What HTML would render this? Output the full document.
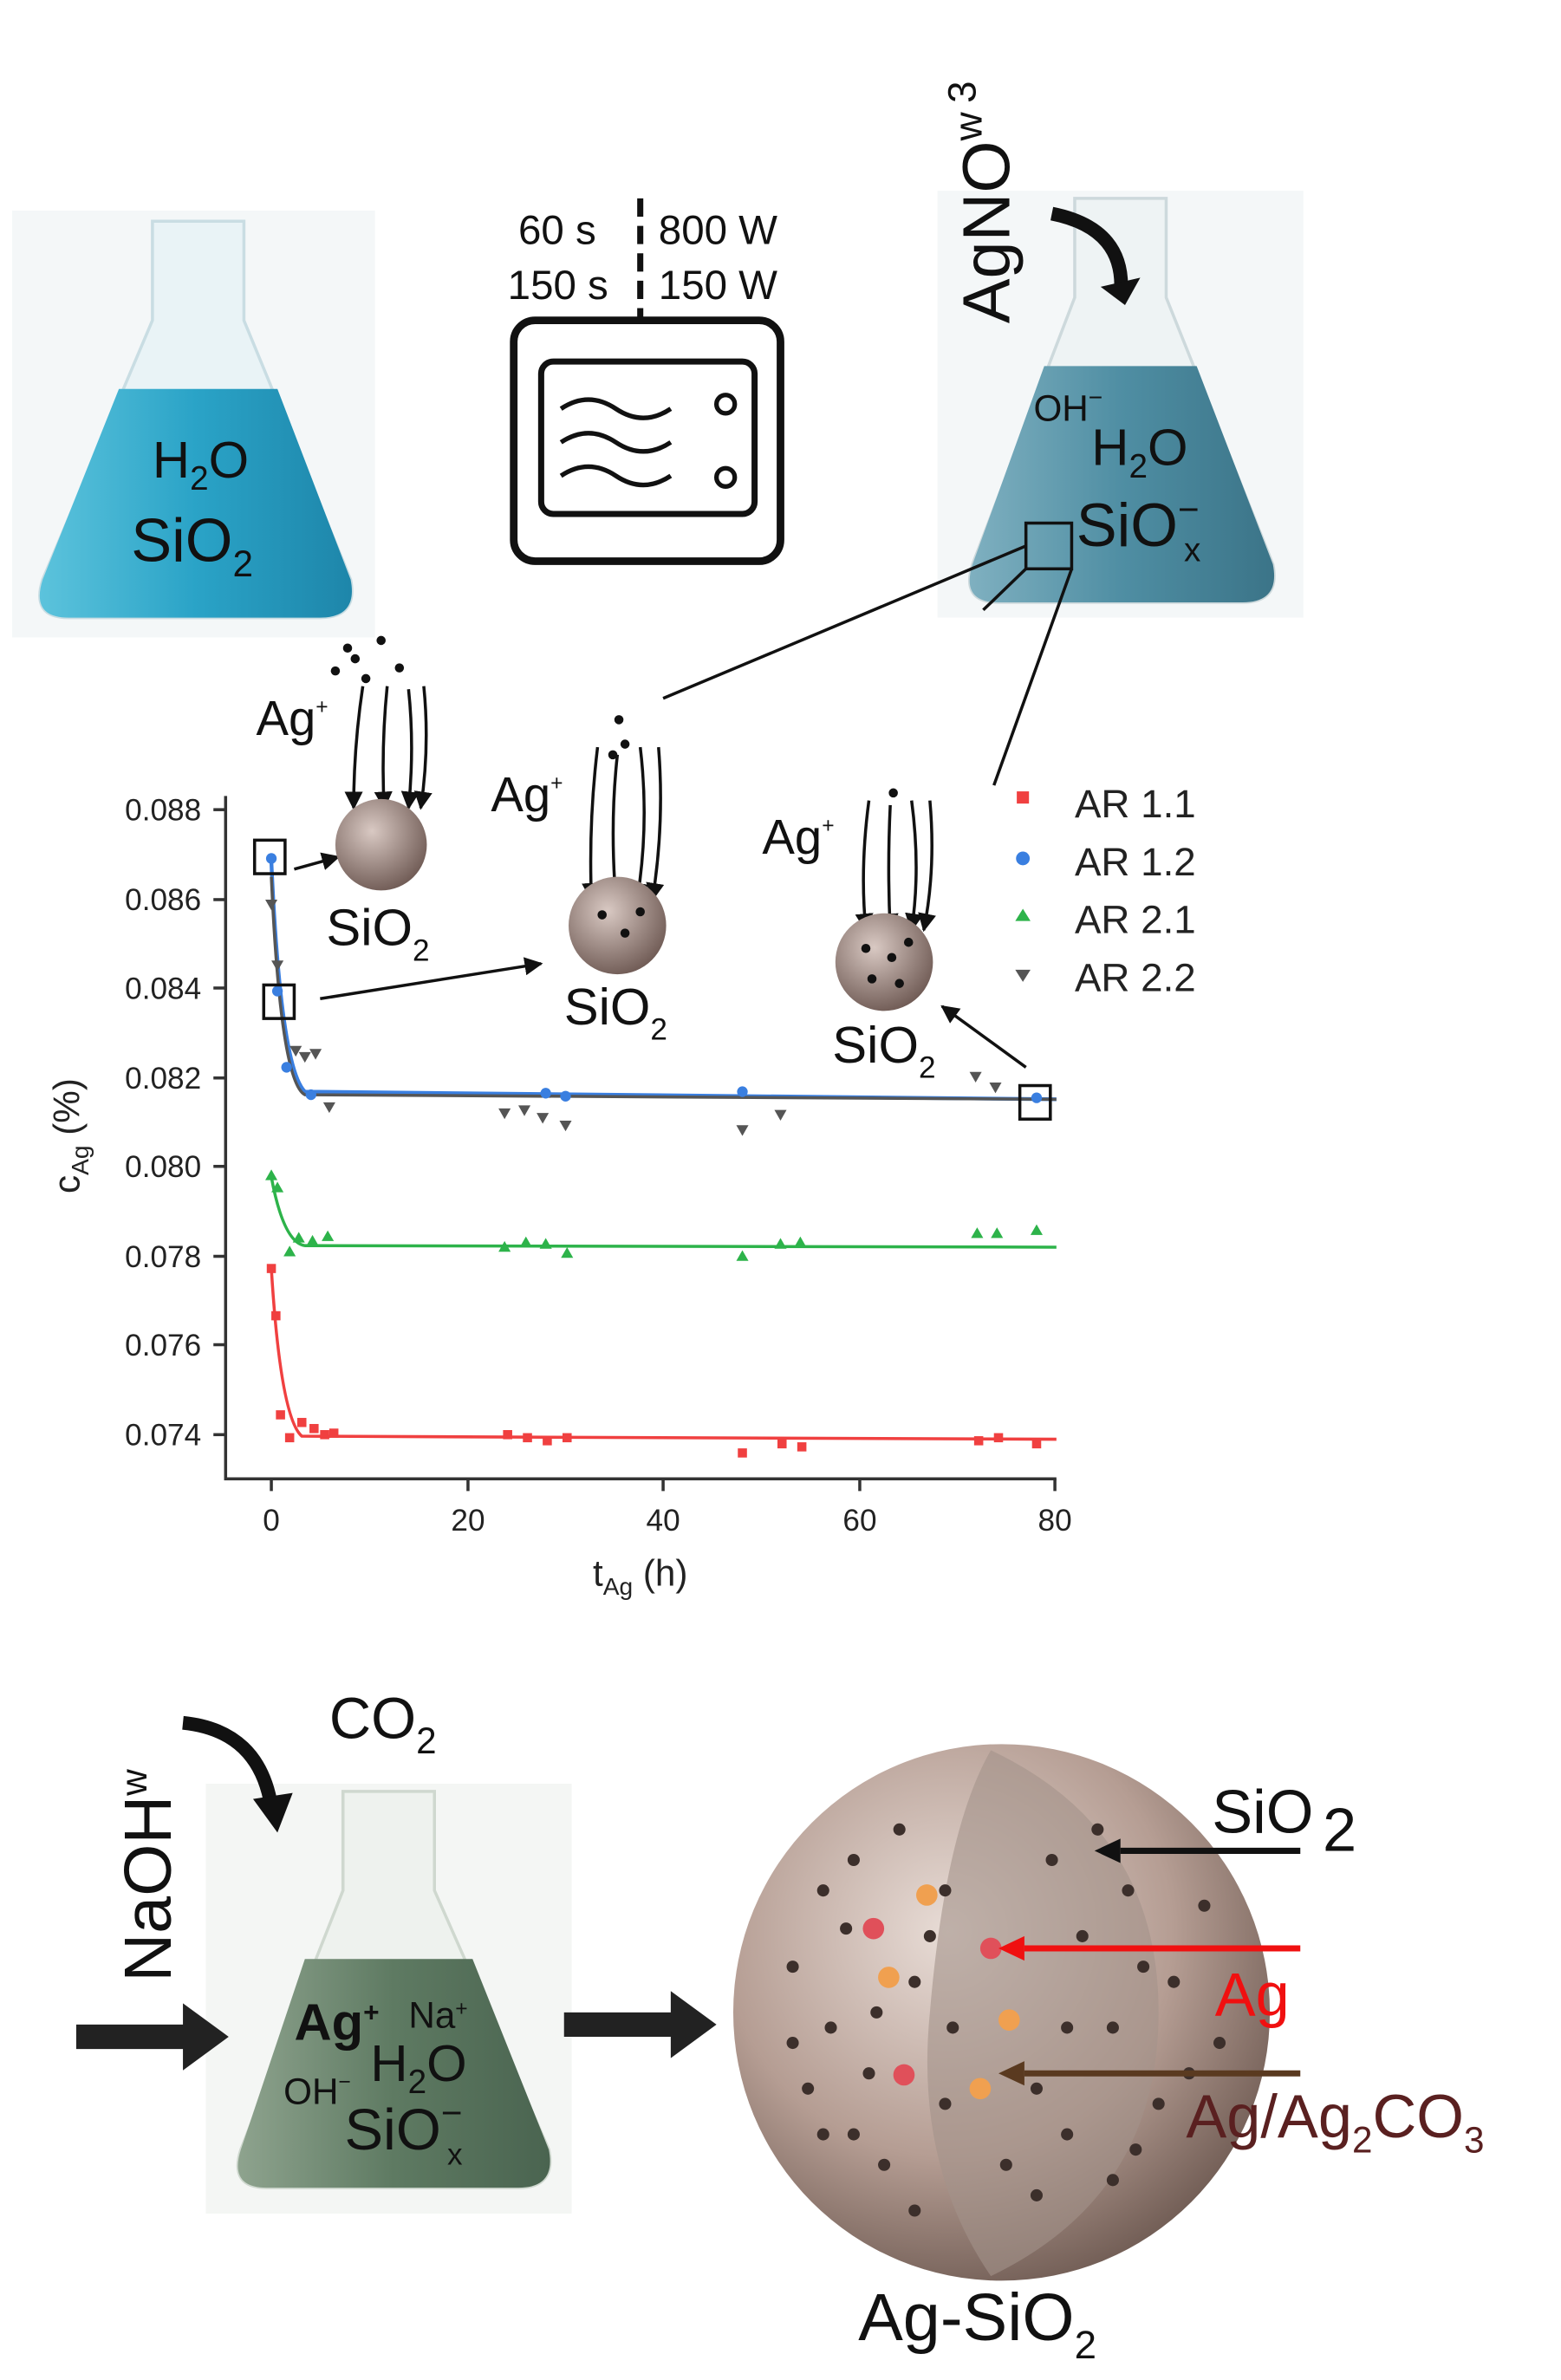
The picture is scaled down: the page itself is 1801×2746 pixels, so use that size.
<!DOCTYPE html>
<html><head><meta charset="utf-8"><style>html,body{margin:0;padding:0;background:#fff}svg{display:block}</style></head>
<body>
<svg width="1801" height="2746" viewBox="0 0 1024 1561" xmlns="http://www.w3.org/2000/svg" font-family="Liberation Sans, sans-serif">
<defs>
<linearGradient id="bl" x1="0" y1="0" x2="1" y2="0"><stop offset="0" stop-color="#5cc3dc"/><stop offset=".5" stop-color="#2aa3c7"/><stop offset="1" stop-color="#1e86aa"/></linearGradient>
<linearGradient id="bg2" x1="0" y1="0" x2="1" y2="0"><stop offset="0" stop-color="#7fb0c0"/><stop offset=".5" stop-color="#4f8ea3"/><stop offset="1" stop-color="#3b7488"/></linearGradient>
<linearGradient id="gr" x1="0" y1="0" x2="1" y2="0"><stop offset="0" stop-color="#8ea38e"/><stop offset=".5" stop-color="#5e7a62"/><stop offset="1" stop-color="#4a6450"/></linearGradient>
<radialGradient id="sph" cx=".4" cy=".35" r=".7"><stop offset="0" stop-color="#e8dcd6"/><stop offset=".6" stop-color="#b59d93"/><stop offset="1" stop-color="#6e5a52"/></radialGradient>
<radialGradient id="ps" cx=".4" cy=".35" r=".7"><stop offset="0" stop-color="#d9c9c3"/><stop offset="1" stop-color="#6d5852"/></radialGradient>
<marker id="ah" viewBox="0 0 10 10" refX="9" refY="5" markerWidth="6" markerHeight="6" orient="auto"><path d="M0 0 L10 5 L0 10 Z" fill="#111"/></marker>
</defs>
<!-- flask 1 -->
<rect x="8" y="138" width="238" height="280" fill="#f4f7f8"/>
<path d="M100 145 L160 145 L160 210 L230 380 Q235 405 210 405 L45 405 Q20 405 28 380 L100 210 Z" fill="#e9f3f6" stroke="#c9dde3" stroke-width="2"/>
<path d="M78 255 L182 255 L230 380 Q235 405 210 405 L45 405 Q20 405 28 380 Z" fill="url(#bl)"/>
<text x="100" y="313" font-size="34" fill="#111">H<tspan font-size="22" dy="8">2</tspan><tspan dy="-8">O</tspan></text>
<text x="86" y="368" font-size="40" fill="#111">SiO<tspan font-size="24" dy="10">2</tspan></text>
<!-- microwave -->
<text x="340" y="160" font-size="27" fill="#111">60 s</text><text x="432" y="160" font-size="27" fill="#111">800 W</text>
<text x="333" y="196" font-size="27" fill="#111">150 s</text><text x="432" y="196" font-size="27" fill="#111">150 W</text>
<line x1="420" y1="130" x2="420" y2="210" stroke="#111" stroke-width="4" stroke-dasharray="12,6"/>
<rect x="337" y="210" width="175" height="158" rx="14" fill="none" stroke="#111" stroke-width="5"/>
<rect x="355" y="237" width="140" height="100" rx="8" fill="none" stroke="#111" stroke-width="4"/>
<path d="M368 268 q18 -12 36 0 t36 0 M368 290 q18 -12 36 0 t36 0 M368 312 q18 -12 36 0 t36 0" fill="none" stroke="#111" stroke-width="3"/>
<circle cx="476" cy="265" r="6" fill="none" stroke="#111" stroke-width="3"/><circle cx="476" cy="313" r="6" fill="none" stroke="#111" stroke-width="3"/>
<!-- flask 2 -->
<rect x="615" y="125" width="240" height="280" fill="#f4f7f8"/>
<path d="M705 130 L765 130 L765 195 L835 370 Q840 395 815 395 L655 395 Q630 395 638 370 L705 195 Z" fill="#eef3f4" stroke="#cdd9dc" stroke-width="2"/>
<path d="M685 240 L785 240 L835 370 Q840 395 815 395 L655 395 Q630 395 638 370 Z" fill="url(#bg2)"/>
<text transform="translate(662,212) rotate(-90)" font-size="44" fill="#111">AgNO<tspan font-size="26" dy="-18">w</tspan><tspan font-size="26" dx="6" dy="-4">3</tspan></text>
<path d="M690 140 Q740 150 735 195" fill="none" stroke="#111" stroke-width="9"/><path d="M722 188 L738 200 L748 182 Z" fill="#111"/>
<text x="678" y="276" font-size="24" fill="#111">OH<tspan font-size="16" dy="-10">−</tspan></text>
<text x="716" y="305" font-size="34" fill="#111">H<tspan font-size="22" dy="8">2</tspan><tspan dy="-8">O</tspan></text>
<text x="706" y="358" font-size="40" fill="#111">SiO<tspan font-size="24" dy="-16">−</tspan><tspan font-size="22" dx="-10" dy="26">x</tspan></text>
<rect x="673" y="343" width="30" height="30" fill="none" stroke="#111" stroke-width="2"/>
<line x1="673" y1="358" x2="435" y2="458" stroke="#111" stroke-width="2"/>
<line x1="703" y1="373" x2="652" y2="515" stroke="#111" stroke-width="2"/>
<line x1="673" y1="373" x2="645" y2="400" stroke="#111" stroke-width="2"/>
<!-- chart axes -->
<g stroke="#333" stroke-width="2" fill="none"><path d="M148 522 L148 970 L693 970"/></g>
<g font-size="20" fill="#222" text-anchor="end">
<text x="132" y="538">0.088</text><text x="132" y="597">0.086</text><text x="132" y="655">0.084</text><text x="132" y="714">0.082</text><text x="132" y="772">0.080</text><text x="132" y="831">0.078</text><text x="132" y="889">0.076</text><text x="132" y="948">0.074</text></g>
<g stroke="#333" stroke-width="2"><line x1="140" y1="531" x2="148" y2="531"/><line x1="140" y1="590" x2="148" y2="590"/><line x1="140" y1="648" x2="148" y2="648"/><line x1="140" y1="707" x2="148" y2="707"/><line x1="140" y1="765" x2="148" y2="765"/><line x1="140" y1="824" x2="148" y2="824"/><line x1="140" y1="882" x2="148" y2="882"/><line x1="140" y1="941" x2="148" y2="941"/>
<line x1="178" y1="970" x2="178" y2="978"/><line x1="307" y1="970" x2="307" y2="978"/><line x1="435" y1="970" x2="435" y2="978"/><line x1="564" y1="970" x2="564" y2="978"/><line x1="692" y1="970" x2="692" y2="978"/></g>
<g font-size="20" fill="#222" text-anchor="middle"><text x="178" y="1004">0</text><text x="307" y="1004">20</text><text x="435" y="1004">40</text><text x="564" y="1004">60</text><text x="692" y="1004">80</text></g>
<text x="420" y="1040" font-size="24" text-anchor="middle" fill="#222">t<tspan font-size="16" dy="6">Ag</tspan><tspan dy="-6"> (h)</tspan></text>
<text transform="translate(52,745) rotate(-90)" font-size="24" text-anchor="middle" fill="#222">c<tspan font-size="16" dy="6">Ag</tspan><tspan dy="-6"> (%)</tspan></text>
<!-- curves -->
<path d="M178 565 Q184 700 200 716 L693 721" fill="none" stroke="#3a7fe0" stroke-width="2.5"/>
<path d="M178 575 Q184 710 200 718 L693 721" fill="none" stroke="#555" stroke-width="2"/>
<path d="M178 772 Q186 815 200 817 L693 818" fill="none" stroke="#2db34a" stroke-width="2"/>
<path d="M178 832 Q184 930 198 942 L693 944" fill="none" stroke="#f04040" stroke-width="2"/>
<g fill="#3a7fe0"><circle cx="178" cy="563" r="3.5"/><circle cx="182" cy="650" r="3.5"/><circle cx="188" cy="700" r="3.5"/><circle cx="204" cy="718" r="3.5"/><circle cx="358" cy="717" r="3.5"/><circle cx="371" cy="719" r="3.5"/><circle cx="487" cy="716" r="3.5"/><circle cx="680" cy="720" r="3.5"/></g>
<g fill="#555"><path d="M174 590h8l-4 7z M178 630h8l-4 7z M190 686h8l-4 7z M196 690h8l-4 7z M203 688h8l-4 7z M212 723h8l-4 7z M327 727h8l-4 7z M340 725h8l-4 7z M352 730h8l-4 7z M367 735h8l-4 7z M483 738h8l-4 7z M508 728h8l-4 7z M636 703h8l-4 7z M649 710h8l-4 7z"/></g>
<g fill="#2db34a"><path d="M178 767l4 7h-8z M182 775l4 7h-8z M190 817l4 7h-8z M196 808l4 7h-8z M205 810l4 7h-8z M215 807l4 7h-8z M331 814l4 7h-8z M345 811l4 7h-8z M358 812l4 7h-8z M372 818l4 7h-8z M487 820l4 7h-8z M512 812l4 7h-8z M525 811l4 7h-8z M641 805l4 7h-8z M654 805l4 7h-8z M680 803l4 7h-8z"/></g>
<g fill="#f04040"><rect x="175" y="829" width="6" height="6"/><rect x="178" y="860" width="6" height="6"/><rect x="181" y="925" width="6" height="6"/><rect x="187" y="940" width="6" height="6"/><rect x="195" y="930" width="6" height="6"/><rect x="203" y="934" width="6" height="6"/><rect x="210" y="938" width="6" height="6"/><rect x="216" y="937" width="6" height="6"/><rect x="330" y="938" width="6" height="6"/><rect x="343" y="940" width="6" height="6"/><rect x="356" y="942" width="6" height="6"/><rect x="369" y="940" width="6" height="6"/><rect x="484" y="950" width="6" height="6"/><rect x="510" y="944" width="6" height="6"/><rect x="523" y="946" width="6" height="6"/><rect x="639" y="942" width="6" height="6"/><rect x="652" y="940" width="6" height="6"/><rect x="677" y="944" width="6" height="6"/></g>
<rect x="167" y="551" width="20" height="22" fill="none" stroke="#111" stroke-width="2"/>
<rect x="173" y="646" width="20" height="22" fill="none" stroke="#111" stroke-width="2"/>
<rect x="669" y="712" width="20" height="22" fill="none" stroke="#111" stroke-width="2"/>
<!-- legend -->
<rect x="667" y="519" width="8" height="8" fill="#f04040"/><text x="705" y="536" font-size="26" fill="#222">AR 1.1</text>
<circle cx="671" cy="563" r="4.5" fill="#3a7fe0"/><text x="705" y="574" font-size="26" fill="#222">AR 1.2</text>
<path d="M671 596l5 8h-10z" fill="#2db34a"/><text x="705" y="612" font-size="26" fill="#222">AR 2.1</text>
<path d="M666 636h10l-5 8z" fill="#555"/><text x="705" y="650" font-size="26" fill="#222">AR 2.2</text>
<!-- particles -->
<g fill="#111"><circle cx="220" cy="440" r="3"/><circle cx="233" cy="432" r="3"/><circle cx="250" cy="420" r="3"/><circle cx="240" cy="445" r="3"/><circle cx="262" cy="438" r="3"/><circle cx="228" cy="425" r="3"/><circle cx="406" cy="472" r="3"/><circle cx="410" cy="488" r="3"/><circle cx="402" cy="495" r="3"/><circle cx="586" cy="520" r="3"/></g>
<text x="168" y="482" font-size="32" fill="#111">Ag<tspan font-size="14" dy="-14">+</tspan></text>
<text x="322" y="532" font-size="32" fill="#111">Ag<tspan font-size="14" dy="-14">+</tspan></text>
<text x="500" y="560" font-size="32" fill="#111">Ag<tspan font-size="14" dy="-14">+</tspan></text>
<g stroke="#111" stroke-width="2" fill="none" marker-end="url(#ah)">
<path d="M238 450 Q232 490 232 530"/><path d="M254 450 Q250 490 252 530"/><path d="M268 452 Q272 490 268 530"/><path d="M278 450 Q282 490 276 530"/>
<path d="M392 490 Q386 540 388 590"/><path d="M405 495 Q400 540 404 590"/><path d="M420 490 Q426 540 418 590"/><path d="M432 490 Q436 540 428 590"/>
<path d="M570 525 Q564 570 568 610"/><path d="M584 528 Q582 570 584 610"/><path d="M598 525 Q604 570 598 610"/><path d="M610 525 Q614 570 606 610"/>
<path d="M193 570 L222 562"/><path d="M210 655 L355 632"/><path d="M673 700 L618 660"/></g>
<circle cx="250" cy="554" r="30" fill="url(#ps)"/>
<circle cx="405" cy="607" r="32" fill="url(#ps)"/>
<g fill="#111"><circle cx="395" cy="600" r="3"/><circle cx="410" cy="612" r="3"/><circle cx="420" cy="598" r="3"/></g>
<circle cx="580" cy="631" r="32" fill="url(#ps)"/>
<g fill="#111"><circle cx="568" cy="622" r="3"/><circle cx="585" cy="628" r="3"/><circle cx="596" cy="618" r="3"/><circle cx="572" cy="642" r="3"/><circle cx="590" cy="645" r="3"/></g>
<text x="214" y="620" font-size="34" fill="#111">SiO<tspan font-size="20" dy="10">2</tspan></text>
<text x="370" y="672" font-size="34" fill="#111">SiO<tspan font-size="20" dy="10">2</tspan></text>
<text x="546" y="697" font-size="34" fill="#111">SiO<tspan font-size="20" dy="10">2</tspan></text>
<!-- bottom -->
<text x="216" y="1140" font-size="38" fill="#111">CO<tspan font-size="24" dy="10">2</tspan></text>
<text transform="translate(112,1300) rotate(-90)" font-size="44" fill="#111">NaOH<tspan font-size="24" dy="-16">w</tspan></text>
<rect x="135" y="1170" width="240" height="282" fill="#f4f6f4"/>
<path d="M120 1130 Q170 1135 178 1185" fill="none" stroke="#111" stroke-width="9"/><path d="M166 1180 L182 1202 L192 1176 Z" fill="#111"/>
<path d="M225 1175 L285 1175 L285 1240 L360 1410 Q365 1435 340 1435 L175 1435 Q150 1435 158 1410 L225 1240 Z" fill="#eef2ee" stroke="#cfd8cf" stroke-width="2"/>
<path d="M200 1285 L310 1285 L360 1410 Q365 1435 340 1435 L175 1435 Q150 1435 158 1410 Z" fill="url(#gr)"/>
<text x="193" y="1338" font-size="34" font-weight="bold" fill="#111">Ag<tspan font-size="18" dy="-12">+</tspan></text>
<text x="268" y="1330" font-size="24" fill="#111">Na<tspan font-size="14" dy="-8">+</tspan></text>
<text x="243" y="1365" font-size="34" fill="#111">H<tspan font-size="22" dy="8">2</tspan><tspan dy="-8">O</tspan></text>
<text x="186" y="1380" font-size="24" fill="#111">OH<tspan font-size="14" dy="-10">−</tspan></text>
<text x="226" y="1410" font-size="38" fill="#111">SiO<tspan font-size="24" dy="-16">−</tspan><tspan font-size="20" dx="-10" dy="26">x</tspan></text>
<path d="M50 1328 L120 1328 L120 1314 L150 1336 L120 1358 L120 1344 L50 1344 Z" fill="#222"/>
<path d="M370 1320 L440 1320 L440 1306 L470 1328 L440 1350 L440 1336 L370 1336 Z" fill="#222"/>
<circle cx="657" cy="1320" r="176" fill="url(#sph)"/>
<path d="M650 1148 Q760 1200 760 1320 Q760 1440 650 1493 Q600 1420 610 1320 Q620 1200 650 1148Z" fill="#a4928a" opacity=".6"/>
<g fill="#3c2f2b">
<circle cx="540" cy="1240" r="4"/><circle cx="560" cy="1220" r="4"/><circle cx="520" cy="1290" r="4"/><circle cx="545" cy="1330" r="4"/><circle cx="530" cy="1370" r="4"/><circle cx="560" cy="1400" r="4"/><circle cx="590" cy="1200" r="4"/><circle cx="600" cy="1300" r="4"/><circle cx="580" cy="1420" r="4"/><circle cx="620" cy="1380" r="4"/><circle cx="690" cy="1220" r="4"/><circle cx="710" cy="1270" r="4"/><circle cx="730" cy="1330" r="4"/><circle cx="700" cy="1400" r="4"/><circle cx="740" cy="1240" r="4"/><circle cx="770" cy="1300" r="4"/><circle cx="760" cy="1380" r="4"/><circle cx="800" cy="1340" r="4"/><circle cx="790" cy="1250" r="4"/><circle cx="520" cy="1340" r="4"/><circle cx="570" cy="1360" r="4"/><circle cx="620" cy="1240" r="4"/><circle cx="680" cy="1440" r="4"/><circle cx="730" cy="1430" r="4"/><circle cx="600" cy="1450" r="4"/>
<circle cx="555" cy="1265" r="4"/><circle cx="575" cy="1320" r="4"/><circle cx="540" cy="1400" r="4"/><circle cx="610" cy="1270" r="4"/><circle cx="625" cy="1330" r="4"/><circle cx="700" cy="1330" r="4"/><circle cx="720" cy="1200" r="4"/><circle cx="750" cy="1290" r="4"/><circle cx="780" cy="1360" r="4"/><circle cx="745" cy="1410" r="4"/><circle cx="680" cy="1370" r="4"/><circle cx="660" cy="1420" r="4"/></g>
<g><circle cx="573" cy="1265" r="7" fill="#e0505a"/><circle cx="608" cy="1243" r="7" fill="#f0a050"/><circle cx="583" cy="1297" r="7" fill="#f0a050"/><circle cx="650" cy="1278" r="7" fill="#e0505a"/><circle cx="662" cy="1325" r="7" fill="#f0a050"/><circle cx="593" cy="1361" r="7" fill="#e0505a"/><circle cx="643" cy="1370" r="7" fill="#f0a050"/></g>
<line x1="853" y1="1214" x2="735" y2="1214" stroke="#111" stroke-width="4"/><path d="M735 1206 L718 1214 L735 1222 Z" fill="#111"/>
<line x1="853" y1="1278" x2="672" y2="1278" stroke="#f01010" stroke-width="4"/><path d="M672 1270 L655 1278 L672 1286 Z" fill="#f01010"/>
<line x1="853" y1="1360" x2="672" y2="1360" stroke="#5a3a20" stroke-width="4"/><path d="M672 1352 L655 1360 L672 1368 Z" fill="#5a3a20"/>
<text x="795" y="1202" font-size="40" fill="#111">SiO<tspan font-size="40" dx="6" dy="12">2</tspan></text>
<text x="797" y="1322" font-size="40" fill="#f01010">Ag</text>
<text x="778" y="1402" font-size="40" fill="#5a2020">Ag/Ag<tspan font-size="24" dy="10">2</tspan><tspan dy="-10">CO</tspan><tspan font-size="24" dy="10">3</tspan></text>
<text x="563" y="1535" font-size="44" fill="#111">Ag-SiO<tspan font-size="26" dy="12">2</tspan></text>
</svg>
</body></html>
